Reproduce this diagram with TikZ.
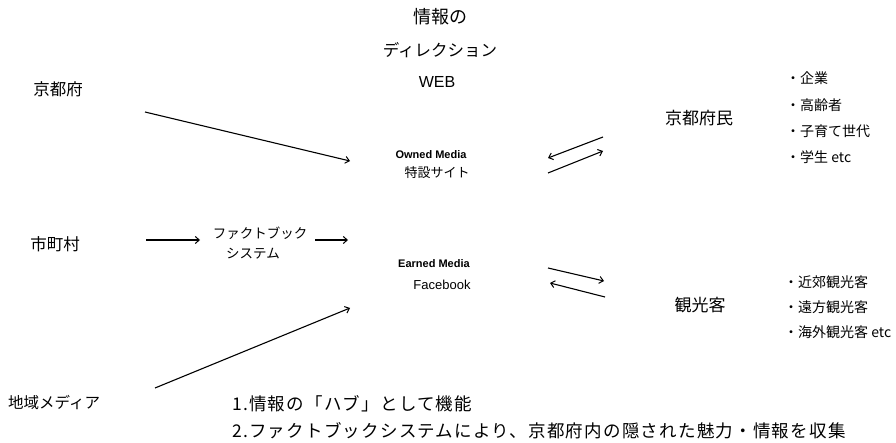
\documentclass[tikz,border=0pt]{standalone}
\usepackage{fontspec}
\setmainfont{Noto Sans CJK JP}
\newfontfamily\lat{Liberation Sans}
\newfontfamily\spacedjp[LetterSpace=7]{Noto Sans CJK JP}
\usetikzlibrary{arrows.meta}
\begin{document}
\begin{tikzpicture}[x=1pt,y=-1pt,
  lbl/.style={inner sep=0pt,font=\fontsize{16.5}{16.5}\selectfont},
  rlbl/.style={inner sep=0pt,font=\fontsize{17}{17}\selectfont},
  tiny/.style={inner sep=0pt,font=\lat\bfseries\fontsize{11}{11}\selectfont},
  fbk/.style={inner sep=0pt,font=\fontsize{13.5}{13.5}\selectfont},
  blt/.style={inner sep=0pt,anchor=west,font=\fontsize{14}{14}\selectfont},
  bottom/.style={inner sep=0pt,anchor=west,font=\spacedjp\fontsize{17.5}{17.5}\selectfont},
  arr/.style={line width=1.1pt,-{Straight Barb[length=4pt,width=7pt,line width=1pt]}}]
\useasboundingbox (0,0) rectangle (896,443);
\fill[white] (0,0) rectangle (896,443);

% top titles
\node[inner sep=0pt,font=\fontsize{18}{18}\selectfont] (t1) at (440,17) {情報の};
\node[lbl] (t2) at (440,50) {ディレクション};
\node[inner sep=0pt,font=\lat\fontsize{16}{16}\selectfont] (web) at (437,82) {WEB};

% sources
\node[lbl] (kyoto) at (58,89) {京都府};
\node[lbl] (city) at (55,244) {市町村};
\node[inner sep=0pt,anchor=west,font=\fontsize{15.5}{15.5}\selectfont] (media) at (8,403) {地域メディア};

% fact book
\node[fbk] (fb1) at (260,233) {ファクトブック};
\node[fbk] (fb2) at (253,254) {システム};

% media
\node[tiny] (owned) at (431,155) {Owned Media};
\node[inner sep=0pt,font=\fontsize{13}{13}\selectfont] (tokusetsu) at (437,173) {特設サイト};
\node[tiny] (earned) at (434,264) {Earned Media};
\node[inner sep=0pt,font=\lat\fontsize{13}{13}\selectfont] (facebook) at (442,285) {Facebook};

% targets
\node[rlbl] (fumin) at (699,118) {京都府民};
\node[rlbl] (kanko) at (700,305) {観光客};

\node[blt] (b1) at (786,78) {・企業};
\node[blt] (b2) at (786,105) {・高齢者};
\node[blt] (b3) at (786,131) {・子育て世代};
\node[blt] (b4) at (786,157) {・学生 etc};

\node[blt] (c1) at (784,282) {・近郊観光客};
\node[blt] (c2) at (784,307) {・遠方観光客};
\node[blt] (c3) at (784,332) {・海外観光客 etc};

% bottom notes
\node[bottom] (n1) at (232,404) {1.情報の「ハブ」として機能};
\node[bottom] (n2) at (232,431) {2.ファクトブックシステムにより、京都府内の隠された魅力・情報を収集};

% arrow coordinates
\coordinate (a1s) at (145,112); \coordinate (a1e) at (350,161);
\coordinate (a2s) at (146,240); \coordinate (a2e) at (200,240);
\coordinate (a3s) at (315,240); \coordinate (a3e) at (348,240);
\coordinate (a4s) at (155,388); \coordinate (a4e) at (350,308);
\coordinate (u1s) at (603,137); \coordinate (u1e) at (548,158);
\coordinate (u2s) at (548,173); \coordinate (u2e) at (603,151);
\coordinate (l1s) at (548,268); \coordinate (l1e) at (604,281);
\coordinate (l2s) at (605,297); \coordinate (l2e) at (550,283);

\draw[arr] (a1s) -- (a1e);
\draw[arr] (a2s) -- (a2e);
\draw[arr] (a3s) -- (a3e);
\draw[arr] (a4s) -- (a4e);
\draw[arr] (u1s) -- (u1e);
\draw[arr] (u2s) -- (u2e);
\draw[arr] (l1s) -- (l1e);
\draw[arr] (l2s) -- (l2e);
\end{tikzpicture}
\end{document}
